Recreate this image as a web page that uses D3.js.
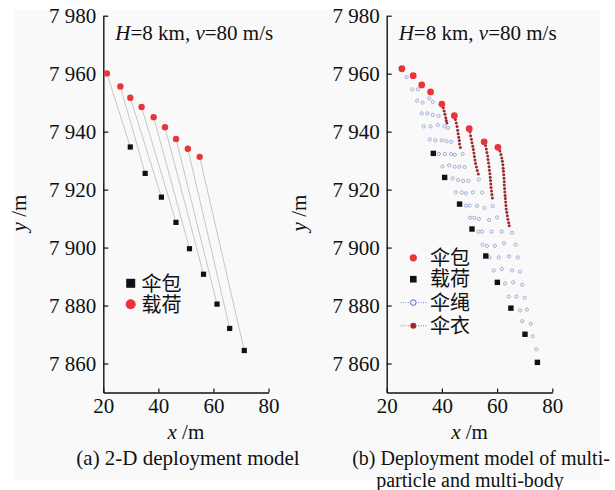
<!DOCTYPE html>
<html>
<head>
<meta charset="utf-8">
<script src="https://cdn.jsdelivr.net/npm/d3@7"></script>
<style>
  html, body { margin: 0; padding: 0; background: #ffffff; }
  svg text { font-family: "Liberation Serif", "Times New Roman", serif; fill: #111; }
  .cjk { font-family: "Noto Sans CJK SC", sans-serif; }
</style>
</head>
<body>
<script>
// ---- shared axes ----
const xDomain = [20, 80];
const yDomain = [7850, 7980];
const xTicks = [20, 40, 60, 80];
const yTicks = [7860, 7880, 7900, 7920, 7940, 7960, 7980];

// ---- (a) 2-D deployment model ----
const aPayloadX = [21.3, 26.2, 29.8, 33.9, 38.3, 42.4, 46.4, 50.7, 55.0];
const aPayloadY = [7960.1, 7955.6, 7951.7, 7948.5, 7945.0, 7941.5, 7937.5, 7934.1, 7931.3];
const aPackX = [29.8, 35.2, 41.1, 46.4, 51.3, 56.4, 61.3, 65.9, 71.2];
const aPackY = [7934.7, 7925.6, 7917.4, 7908.7, 7899.6, 7890.8, 7880.5, 7872.1, 7864.5];
const aLegend = ["伞包", "载荷"];

// ---- (b) multi-particle / multi-body model ----
const bPackX = [25.5, 29.6, 32.7, 35.9, 40.0, 44.5, 49.9, 55.3, 60.3];
const bPackY = [7961.7, 7959.3, 7956.1, 7953.7, 7949.5, 7945.5, 7941.0, 7936.5, 7934.6];
const bPayloadX = [36.9, 41.0, 46.4, 50.9, 55.9, 60.1, 65.0, 70.1, 74.6];
const bPayloadY = [7932.5, 7924.2, 7915.0, 7906.4, 7897.1, 7888.0, 7879.1, 7870.1, 7860.4];

// suspension-line particles [x, y]
const bLines = [
  [27.2, 7958.8],
  [29.3, 7954.6], [31.3, 7954.6],
  [31.0, 7950.7], [33.0, 7950.0], [35.4, 7951.5], [36.7, 7950.3],
  [32.7, 7946.3], [34.7, 7946.3], [36.7, 7945.8], [38.8, 7945.4],
  [33.4, 7941.8], [35.9, 7941.8], [38.5, 7942.3], [40.9, 7941.8], [42.2, 7941.3],
  [35.6, 7937.3], [37.6, 7937.0], [40.0, 7937.0], [41.7, 7936.7], [43.4, 7936.5],
  [38.9, 7932.3], [41.1, 7932.3], [43.3, 7932.3], [44.7, 7932.0], [47.5, 7932.3],
  [40.2, 7928.0], [42.6, 7928.4], [44.6, 7927.9], [46.3, 7927.9], [48.2, 7927.8],
  [43.9, 7923.9], [45.9, 7923.3], [47.7, 7923.0], [49.6, 7923.0], [53.4, 7923.5],
  [45.0, 7919.1], [47.2, 7919.0], [48.7, 7918.7], [51.2, 7919.1], [54.6, 7919.0],
  [48.7, 7914.5], [50.0, 7914.5], [52.7, 7914.4], [55.4, 7913.7], [58.4, 7914.3],
  [50.2, 7910.3], [51.7, 7910.3], [53.4, 7909.9], [57.1, 7909.5], [60.0, 7910.4],
  [53.2, 7905.5], [54.5, 7905.5], [58.0, 7905.5], [61.7, 7905.5], [65.4, 7905.1],
  [54.7, 7901.0], [56.3, 7900.6], [59.2, 7900.6], [62.5, 7901.5], [66.7, 7901.0],
  [57.2, 7896.6], [60.6, 7896.6], [64.3, 7897.0], [67.5, 7896.6],
  [58.8, 7892.1], [61.7, 7892.6], [65.4, 7892.1], [68.3, 7891.7],
  [62.9, 7887.6], [65.8, 7888.0], [69.1, 7887.2],
  [64.2, 7883.1], [67.0, 7883.1], [70.0, 7882.7],
  [68.3, 7878.3], [70.8, 7878.6],
  [69.1, 7874.6], [72.2, 7873.7],
  [72.9, 7869.4],
  [74.2, 7864.9]
];

// canopy particles, one chain per time step
const bCanopyX = [
  [40.5, 40.8, 41.1, 41.4, 41.6, 41.8],
  [44.9, 45.2, 45.5, 45.7, 45.9, 46.1, 46.3, 46.4, 46.7],
  [50.2, 50.4, 50.7, 50.9, 51.2, 51.4, 51.6, 51.8, 52.0, 52.2, 52.5, 52.8, 53.2],
  [55.8, 56.1, 56.3, 56.6, 56.7, 56.9, 57.1, 57.2, 57.4, 57.5, 57.6, 57.7, 57.8, 58.0, 58.1, 58.3],
  [61.0, 61.4, 61.7, 61.9, 62.1, 62.2, 62.3, 62.4, 62.5, 62.6, 62.6, 62.7, 62.8, 62.9, 63.0, 63.1, 63.2, 63.3, 63.5, 63.7, 63.9, 64.2, 64.4]
];
const bCanopyY = [
  [7948.2, 7947.1, 7946.0, 7944.8, 7943.8, 7943.0],
  [7944.2, 7943.0, 7941.8, 7940.5, 7939.3, 7938.1, 7936.9, 7935.7, 7934.5],
  [7939.9, 7938.6, 7937.4, 7936.2, 7935.0, 7933.8, 7932.6, 7931.4, 7930.2, 7929.0, 7927.8, 7926.6, 7925.4],
  [7935.2, 7934.0, 7932.8, 7931.6, 7930.4, 7929.2, 7927.9, 7926.7, 7925.5, 7924.3, 7923.1, 7921.9, 7920.7, 7919.5, 7918.3, 7917.1],
  [7933.3, 7932.1, 7930.9, 7929.8, 7928.6, 7927.4, 7926.3, 7925.1, 7923.9, 7922.7, 7921.6, 7920.4, 7919.2, 7918.0, 7916.9, 7915.7, 7914.5, 7913.3, 7912.2, 7911.0, 7909.8, 7908.6, 7907.5]
];
const bLegend = ["伞包", "载荷", "伞绳", "伞衣"];

const captionA = ["(a) 2-D deployment model"];
const captionB = ["(b) Deployment model of multi-", "particle and multi-body"];

// ---- colours ----
const RED = "#e8343b";
const BLACK = "#111111";
const LINE_BLUE = "#8d9bd0";
const CANOPY = "#9c2a2e";

const W = 615, H = 490;
const FS = 21;
const svg = d3.select("body").append("svg").attr("width", W).attr("height", H);

svg.append("rect").attr("x", 14).attr("y", 10).attr("width", 586).attr("height", 470)
  .attr("fill", "#f9f9f9");

const spaced = d3.formatLocale({ decimal: ".", thousands: " ", grouping: [3], currency: ["", ""] }).format(",");

const TOP = 15.7, BOTTOM = 392.5;

function panel(left, right, yTitleX) {
  const x = d3.scaleLinear().domain(xDomain).range([left, right]);
  const y = d3.scaleLinear().domain(yDomain).range([BOTTOM, TOP]);
  const g = svg.append("g");

  const yAxis = g.append("g").attr("transform", `translate(${left},0)`)
    .call(d3.axisLeft(y).tickValues(yTicks).tickFormat(spaced)
      .tickSizeInner(-5).tickSizeOuter(0).tickPadding(7));
  const xAxis = g.append("g").attr("transform", `translate(0,${BOTTOM})`)
    .call(d3.axisBottom(x).tickValues(xTicks).tickFormat(d3.format("d"))
      .tickSizeInner(-4).tickSizeOuter(0).tickPadding(6));
  [yAxis, xAxis].forEach(a => {
    a.select(".domain").attr("stroke", "#111").attr("stroke-width", 1.4);
    a.selectAll(".tick line").attr("stroke", "#111").attr("stroke-width", 1.2);
    a.selectAll("text").attr("font-size", FS).attr("fill", "#111")
      .attr("font-family", '"Liberation Serif", "Times New Roman", serif');
  });

  // axis titles
  const xt = g.append("text").attr("x", (left + right) / 2).attr("y", 439)
    .attr("text-anchor", "middle").attr("font-size", FS);
  xt.append("tspan").attr("font-style", "italic").text("x");
  xt.append("tspan").text(" /m");

  const yt = g.append("text").attr("transform", `translate(${yTitleX},213) rotate(-90)`)
    .attr("text-anchor", "middle").attr("font-size", FS);
  yt.append("tspan").attr("font-style", "italic").text("y");
  yt.append("tspan").text(" /m");

  // condition note
  const note = g.append("text").attr("x", left + 12).attr("y", 40).attr("font-size", FS);
  note.append("tspan").attr("font-style", "italic").text("H");
  note.append("tspan").text("=8 km, ");
  note.append("tspan").attr("font-style", "italic").text("v");
  note.append("tspan").text("=80 m/s");

  return { g, x, y };
}

// ===== panel (a) =====
{
  const { g, x, y } = panel(103.3, 268.5, 26);
  const idx = d3.range(aPayloadX.length);

  g.append("g").selectAll("line").data(idx).join("line")
    .attr("x1", i => x(aPayloadX[i])).attr("y1", i => y(aPayloadY[i]))
    .attr("x2", i => x(aPackX[i])).attr("y2", i => y(aPackY[i]))
    .attr("stroke", "#b9b9b9").attr("stroke-width", 0.8);

  g.append("g").selectAll("circle").data(idx).join("circle")
    .attr("cx", i => x(aPayloadX[i])).attr("cy", i => y(aPayloadY[i]))
    .attr("r", 3.2).attr("fill", RED);

  g.append("g").selectAll("rect").data(idx).join("rect")
    .attr("x", i => x(aPackX[i]) - 2.6).attr("y", i => y(aPackY[i]) - 2.6)
    .attr("width", 5.2).attr("height", 5.2).attr("fill", BLACK);

  // legend
  const lg = g.append("g");
  lg.append("rect").attr("x", 126.2).attr("y", 278.8).attr("width", 9).attr("height", 9).attr("fill", BLACK);
  lg.append("circle").attr("cx", 130.7).attr("cy", 304.2).attr("r", 5).attr("fill", RED);
  lg.selectAll("text").data(aLegend).join("text")
    .attr("class", "cjk").attr("x", 141.5).attr("y", (d, i) => 284 + i * 21)
    .attr("dy", "0.36em").attr("font-size", 20).text(d => d);

  g.append("text").attr("x", 188).attr("y", 465).attr("text-anchor", "middle")
    .attr("font-size", 21).text(captionA[0]);
}

// ===== panel (b) =====
{
  const { g, x, y } = panel(386.7, 552.3, 306);

  g.append("g").selectAll("circle").data(bLines).join("circle")
    .attr("cx", d => x(d[0])).attr("cy", d => y(d[1])).attr("r", 1.6)
    .attr("fill", "none").attr("stroke", LINE_BLUE).attr("stroke-width", 0.8);

  const canopy = bCanopyX.flatMap((xs, c) => xs.map((v, k) => [v, bCanopyY[c][k]]));
  g.append("g").selectAll("circle").data(canopy).join("circle")
    .attr("cx", d => x(d[0])).attr("cy", d => y(d[1])).attr("r", 1.5)
    .attr("fill", CANOPY);

  const idx = d3.range(bPackX.length);
  g.append("g").selectAll("circle").data(idx).join("circle")
    .attr("cx", i => x(bPackX[i])).attr("cy", i => y(bPackY[i]))
    .attr("r", 3.4).attr("fill", RED);

  g.append("g").selectAll("rect").data(idx).join("rect")
    .attr("x", i => x(bPayloadX[i]) - 2.7).attr("y", i => y(bPayloadY[i]) - 2.7)
    .attr("width", 5.4).attr("height", 5.4).attr("fill", BLACK);

  // legend
  const lg = g.append("g");
  const rows = [257.8, 279.2, 302.6, 325.8];
  lg.append("circle").attr("cx", 413.3).attr("cy", rows[0]).attr("r", 3.6).attr("fill", RED);
  lg.append("rect").attr("x", 410).attr("y", rows[1] - 3.3).attr("width", 6.6).attr("height", 6.6).attr("fill", BLACK);
  lg.append("line").attr("x1", 400.5).attr("x2", 426.5).attr("y1", rows[2]).attr("y2", rows[2])
    .attr("stroke", "#6f83c6").attr("stroke-width", 0.9).attr("stroke-dasharray", "1,1.5");
  lg.append("circle").attr("cx", 413.3).attr("cy", rows[2]).attr("r", 2.8)
    .attr("fill", "#f9f9f9").attr("stroke", "#4f67bd").attr("stroke-width", 1);
  lg.append("line").attr("x1", 400.5).attr("x2", 426.5).attr("y1", rows[3]).attr("y2", rows[3])
    .attr("stroke", "#b06065").attr("stroke-width", 0.9).attr("stroke-dasharray", "1,1.5");
  lg.append("circle").attr("cx", 413.3).attr("cy", rows[3]).attr("r", 3).attr("fill", CANOPY);
  lg.selectAll("text").data(bLegend).join("text")
    .attr("class", "cjk").attr("x", 430).attr("y", (d, i) => rows[i])
    .attr("dy", "0.36em").attr("font-size", 20).text(d => d);

  g.append("text").attr("x", 481).attr("y", 465).attr("text-anchor", "middle")
    .attr("font-size", 20).text(captionB[0]);
  g.append("text").attr("x", 470).attr("y", 487).attr("text-anchor", "middle")
    .attr("font-size", 20).text(captionB[1]);
}
</script>
</body>
</html>
